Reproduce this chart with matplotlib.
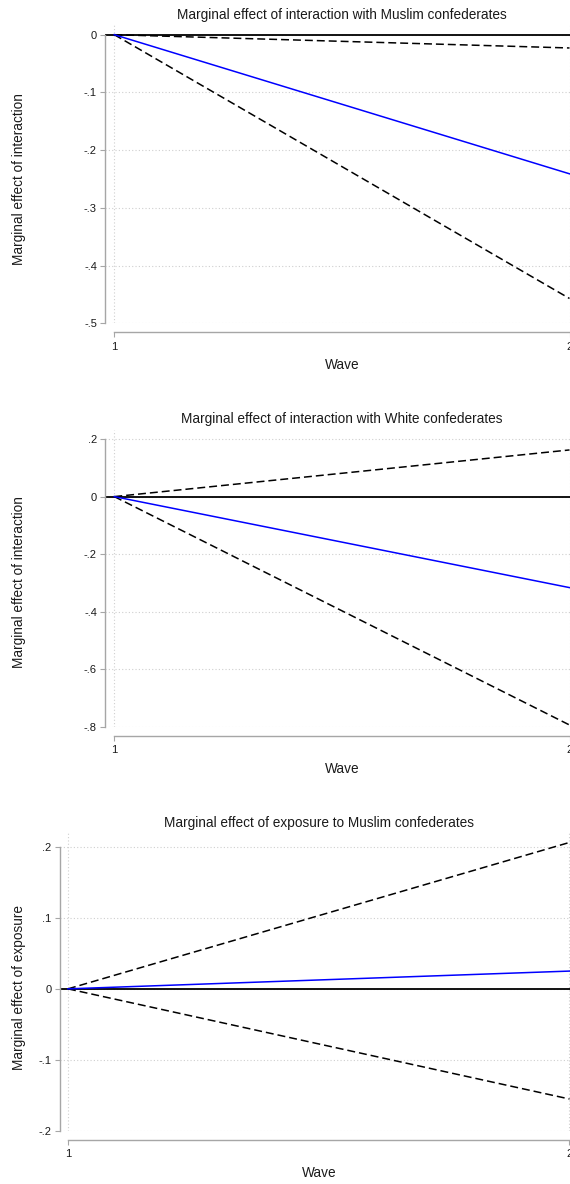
import matplotlib
matplotlib.use("Agg")
import matplotlib.pyplot as plt

plt.rcParams['font.family'] = ['Liberation Sans', 'DejaVu Sans']

waves = [1, 2]

titles = ["Marginal effect of interaction with Muslim confederates",
          "Marginal effect of interaction with White confederates",
          "Marginal effect of exposure to Muslim confederates"]
ylabels = ["Marginal effect of interaction",
           "Marginal effect of interaction",
           "Marginal effect of exposure"]

est_muslim_int = [0.0, -0.241]
lo_muslim_int = [0.0, -0.457]
hi_muslim_int = [0.0, -0.023]

est_white_int = [0.0, -0.316]
lo_white_int = [0.0, -0.793]
hi_white_int = [0.0, 0.162]

est_muslim_exp = [0.0, 0.025]
lo_muslim_exp = [0.0, -0.155]
hi_muslim_exp = [0.0, 0.206]

yticks1 = [0, -0.1, -0.2, -0.3, -0.4, -0.5]
yticklabels1 = ["0", "-.1", "-.2", "-.3", "-.4", "-.5"]
yticks2 = [0.2, 0, -0.2, -0.4, -0.6, -0.8]
yticklabels2 = [".2", "0", "-.2", "-.4", "-.6", "-.8"]
yticks3 = [0.2, 0.1, 0, -0.1, -0.2]
yticklabels3 = [".2", ".1", "0", "-.1", "-.2"]

W, H = 570, 1184
fig = plt.figure(figsize=(W / 100, H / 100), dpi=100)

layouts = [
    dict(left=105, x1=114.3, x2=569.5, ytop_px=25, ybot_px=323.3, yv_top=0.0, yv_top_px=34.7, yv_bot=-0.5,
         title_y=15, wave_y=365, ylab_x=19, ylab_y=179),
    dict(left=105, x1=114.3, x2=569.5, ytop_px=430, ybot_px=727, yv_top=0.2, yv_top_px=439, yv_bot=-0.8,
         title_y=419, wave_y=769, ylab_x=19, ylab_y=582),
    dict(left=59.5, x1=68, x2=569.5, ytop_px=833, ybot_px=1131, yv_top=0.2, yv_top_px=846.7, yv_bot=-0.2,
         title_y=823, wave_y=1173, ylab_x=19, ylab_y=987),
]

series = [
    (est_muslim_int, lo_muslim_int, hi_muslim_int, yticks1, yticklabels1),
    (est_white_int, lo_white_int, hi_white_int, yticks2, yticklabels2),
    (est_muslim_exp, lo_muslim_exp, hi_muslim_exp, yticks3, yticklabels3),
]

axis_gray = '#a6a6a6'
grid_gray = '#cfcfcf'
txt = '#1a1a1a'
dash = (0, (5.2, 2.6))

for i, (L, (est, lo, hi, yt, ytl)) in enumerate(zip(layouts, series)):
    right_px = W
    ax = fig.add_axes([L['left'] / W, 1 - L['ybot_px'] / H,
                       (right_px - L['left']) / W, (L['ybot_px'] - L['ytop_px']) / H])
    ax.patch.set_alpha(0)
    ppu_x = (L['x2'] - L['x1'])
    xl = 1 - (L['x1'] - L['left']) / ppu_x
    xr = 2 + (right_px - L['x2']) / ppu_x
    ax.set_xlim(xl, xr)
    ppu_y = (L['ybot_px'] - L['yv_top_px']) / (L['yv_top'] - L['yv_bot'])
    ytop = L['yv_top'] + (L['yv_top_px'] - L['ytop_px']) / ppu_y
    ax.set_ylim(L['yv_bot'], ytop)

    for v in yt:
        ax.axhline(v, color=grid_gray, lw=0.8, ls=(0, (1, 2)), zorder=0)
    for v in waves:
        ax.axvline(v, color=grid_gray, lw=0.8, ls=(0, (1, 2)), zorder=0)

    ax.axhline(0, color='black', lw=1.3, zorder=2)
    ax.plot(waves, hi, color='black', lw=1.1, ls=dash, zorder=3)
    ax.plot(waves, lo, color='black', lw=1.1, ls=dash, zorder=3)
    ax.plot(waves, est, color='#0000ff', lw=1.1, zorder=4)

    for s in ['top', 'right']:
        ax.spines[s].set_visible(False)
    ax.spines['left'].set_color(axis_gray)
    ax.spines['left'].set_linewidth(1.0)
    ax.spines['left'].set_bounds(min(yt), max(yt))
    ax.spines['bottom'].set_color(axis_gray)
    ax.spines['bottom'].set_linewidth(1.0)
    ax.spines['bottom'].set_position(('outward', 6.5))
    ax.spines['bottom'].set_bounds(1, 2)

    ax.set_yticks(yt)
    ax.set_yticklabels(ytl)
    ax.set_xticks(waves)
    ax.set_xticklabels([str(w) for w in waves])
    ax.tick_params(axis='both', direction='out', length=3.8, width=0.8, color=axis_gray,
                   labelsize=8, labelcolor=txt, pad=2)
    ax.tick_params(axis='x', pad=3)

    cx = (L['x1'] + L['x2']) / 2 / W
    fig.text(cx, 1 - L['title_y'] / H, titles[i], ha='center', va='center', fontsize=9.8, color=txt)
    fig.text(cx, 1 - L['wave_y'] / H, "Wave", ha='center', va='center', fontsize=9.8, color=txt)
    fig.text(L['ylab_x'] / W, 1 - L['ylab_y'] / H, ylabels[i],
             ha='center', va='center', rotation=90, fontsize=9.8, color=txt)

fig.savefig("out.png", dpi=100)
